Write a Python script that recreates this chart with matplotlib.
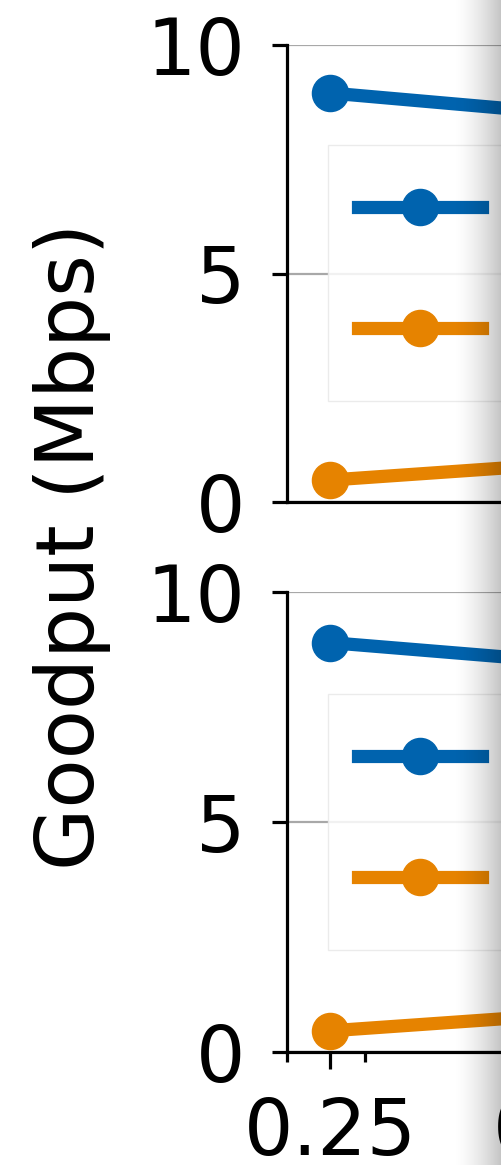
import numpy as np
import matplotlib.pyplot as plt
from matplotlib.ticker import FixedLocator, NullFormatter

# goodput vs. x for the two configurations (top / bottom panel)
x_vals = [0.25, 0.8, 2.5, 8, 25]
tick_vals = [0.25, 0.8, 2.5, 8, 25]
minor_vals = [0.2, 0.3]
labels = ['MPTCP', 'TCP']

top_blue = [8.95, 8.52, 8.0, 7.2, 6.1]
top_orange = [0.48, 0.82, 1.3, 2.0, 2.8]
bot_blue = [8.9, 8.5, 7.9, 7.1, 6.0]
bot_orange = [0.46, 0.80, 1.25, 1.9, 2.7]

BLUE = '#0063ae'
ORANGE = '#e68300'

plt.rcParams['font.family'] = 'DejaVu Sans'

W, H = 502, 1165
fig = plt.figure(figsize=(W / 100, H / 100), dpi=100)

left = 287 / W
width = 444 * np.log10(40 / 0.2) / W
ax_top = fig.add_axes([left, (H - 502) / H, width, 457 / H])
ax_bot = fig.add_axes([left, (H - 1052) / H, width, 460 / H], sharex=ax_top)

panels = [(ax_top, top_blue, top_orange, 145),
          (ax_bot, bot_blue, bot_orange, 694)]

for ax, blue, orange, leg_top in panels:
    ax.plot(x_vals, blue, '-o', color=BLUE, lw=9.5, ms=26, label=labels[0], zorder=3)
    ax.plot(x_vals, orange, '-o', color=ORANGE, lw=9.5, ms=26, label=labels[1], zorder=3)
    ax.set_xscale('log')
    ax.set_xlim(0.2, 40)
    ax.set_ylim(0, 10)
    ax.set_yticks([0, 5, 10])
    ax.grid(axis='y', color='#a8a8a8', lw=1.6)
    ax.set_axisbelow(True)
    for s in ['top', 'right']:
        ax.spines[s].set_visible(False)
    for s in ['left', 'bottom']:
        ax.spines[s].set_linewidth(2.3)
    ax.tick_params(axis='y', labelsize=56, length=11, width=2.3, pad=19)
    ax.tick_params(axis='x', which='major', labelsize=56, length=12, width=2.3, pad=19)
    ax.tick_params(axis='x', which='minor', length=7, width=2.3)
    ax.legend(loc='upper left', bbox_to_anchor=(328 / W, 1 - leg_top / H),
              bbox_transform=fig.transFigure, borderaxespad=0, fontsize=56,
              handlelength=1.6, handletextpad=1.3, borderpad=0.38,
              labelspacing=0.58, fancybox=False, edgecolor='#e8e8e8',
              framealpha=0.85)

ax_bot.set_xticks(tick_vals)
ax_bot.set_xticklabels(['%g' % v for v in tick_vals])
ax_bot.xaxis.set_minor_locator(FixedLocator(minor_vals))
ax_bot.xaxis.set_minor_formatter(NullFormatter())
ax_top.tick_params(axis='x', which='both', length=0, labelbottom=False)

fig.text(72 / W, 1 - 546 / H, 'Goodput (Mbps)', rotation=90,
         ha='center', va='center', fontsize=58)

# grey shading towards the right edge
fade = fig.add_axes([452 / W, 0, 50 / W, 1], zorder=10)
t = np.linspace(0, 1, 200) ** 1.6
rgba = np.zeros((1, 200, 4))
rgba[..., 3] = t * 0.24
fade.imshow(rgba, aspect='auto', extent=[0, 1, 0, 1])
fade.axis('off')

fig.savefig('out.png', dpi=100)
